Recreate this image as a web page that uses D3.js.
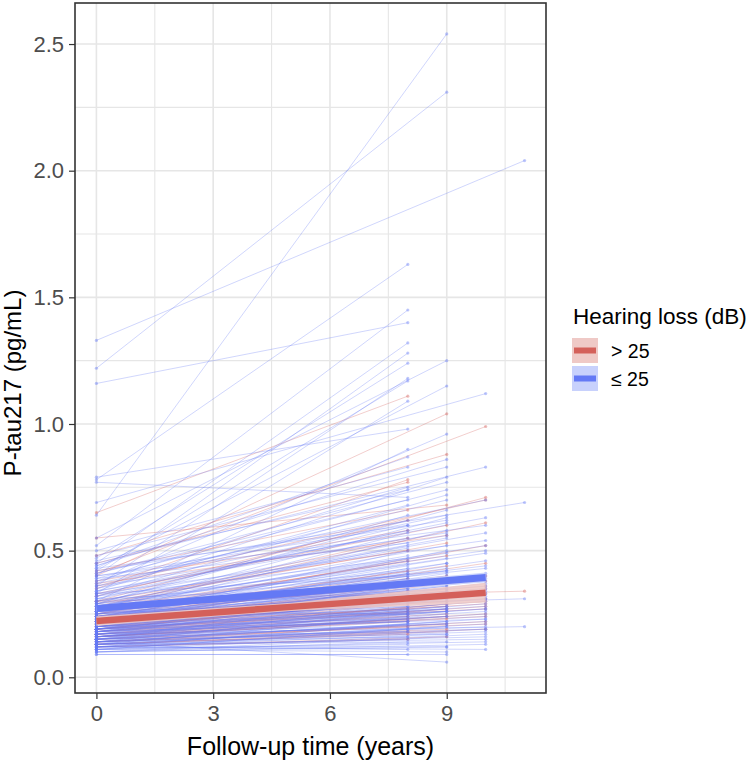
<!DOCTYPE html>
<html>
<head>
<meta charset="utf-8">
<script src="https://cdn.jsdelivr.net/npm/d3@7"></script>
<style>
body { margin: 0; background: #fff; }
svg { display: block; font-family: "Liberation Sans", Arial, sans-serif; }
</style>
</head>
<body>
<svg id="chart" width="750" height="761"></svg>
<script>
// each pair: [P-tau217 at baseline, P-tau217 at follow-up], grouped by follow-up year
var redTo8 = [[0.65,1.11],[0.35,0.78],[0.45,0.77],[0.32,0.62],[0.28,0.55],[0.30,0.50],[0.26,0.46],[0.24,0.42],[0.22,0.39],[0.25,0.36],[0.20,0.34],[0.19,0.31],[0.18,0.29],[0.21,0.27],[0.16,0.25],[0.15,0.23],[0.14,0.20],[0.13,0.17],[0.23,0.30],
	[0.12,0.15],[0.14,0.18],[0.16,0.22],[0.17,0.24],[0.19,0.26],[0.20,0.29],[0.22,0.32],[0.24,0.33],[0.27,0.38],[0.38,0.58],[0.42,0.66]];
var redTo9 = [[0.40,1.04],[0.48,0.88],[0.55,0.68],[0.33,0.60],[0.29,0.53],[0.27,0.48],[0.25,0.44],[0.23,0.40],[0.21,0.37],[0.24,0.35],[0.19,0.33],[0.20,0.31],[0.17,0.29],[0.18,0.27],[0.16,0.24],[0.15,0.21],[0.13,0.18],[0.22,0.30],
	[0.12,0.16],[0.14,0.19],[0.16,0.23],[0.18,0.25],[0.19,0.28],[0.21,0.32],[0.23,0.34],[0.26,0.39],[0.37,0.56]];
var redTo10 = [[0.41,0.99],[0.30,0.71],[0.36,0.70],[0.27,0.61],[0.25,0.52],[0.23,0.45],[0.21,0.40],[0.22,0.36],[0.19,0.33],[0.18,0.30],[0.17,0.28],[0.16,0.25],[0.14,0.22],[0.20,0.29],
	[0.13,0.19],[0.15,0.21],[0.17,0.24],[0.19,0.27],[0.21,0.31],[0.24,0.35],[0.26,0.38]];
var redTo11 = [[0.30,0.34]];

var blueTo8 = [[0.78,1.63],[0.52,1.45],[1.16,1.40],[0.45,1.32],[0.40,1.28],[0.47,1.24],[0.36,1.18],[0.42,1.17],[0.33,1.09],[0.79,0.98],[0.30,0.90],[0.44,0.87],[0.50,0.83],[0.77,0.71],[0.38,0.75],[0.35,0.68],[0.29,0.64],[0.31,0.60],[0.26,0.57],[0.34,0.55],[0.28,0.52],[0.22,0.50],[0.27,0.48],[0.25,0.46],[0.24,0.44],[0.30,0.42],[0.21,0.41],[0.19,0.39],[0.23,0.38],[0.26,0.37],[0.18,0.36],[0.20,0.35],[0.22,0.34],[0.17,0.33],[0.25,0.32],[0.15,0.31],[0.19,0.30],[0.21,0.29],[0.16,0.28],[0.18,0.27],[0.14,0.26],[0.20,0.25],[0.13,0.24],[0.17,0.23],[0.15,0.22],[0.12,0.21],[0.16,0.20],[0.11,0.19],[0.14,0.18],[0.13,0.16],[0.10,0.14],[0.12,0.11],[0.09,0.09],[0.23,0.28],[0.28,0.33],[0.31,0.36],[0.33,0.40],[0.24,0.30],[0.26,0.25],[0.19,0.22],
	[0.11,0.13],[0.12,0.15],[0.13,0.19],[0.14,0.21],[0.15,0.24],[0.16,0.26],[0.17,0.25],[0.18,0.30],[0.19,0.33],[0.20,0.31],[0.21,0.37],[0.22,0.40],[0.23,0.43],[0.24,0.35],[0.25,0.41],[0.27,0.45],[0.29,0.51],[0.32,0.58],[0.14,0.16],[0.16,0.18],[0.18,0.22],[0.20,0.23],[0.22,0.27],[0.24,0.33],[0.26,0.39],
	[0.37,0.62],[0.41,0.70],[0.46,0.74],[0.39,0.53],[0.43,0.60],[0.32,0.47]];
var blueTo9 = [[0.64,2.54],[1.22,2.31],[0.55,1.25],[0.43,1.15],[0.37,0.96],[0.48,0.83],[0.34,0.79],[0.41,0.77],[0.32,0.72],[0.36,0.70],[0.29,0.66],[0.27,0.63],[0.33,0.61],[0.25,0.58],[0.30,0.55],[0.28,0.52],[0.23,0.50],[0.26,0.47],[0.22,0.45],[0.24,0.43],[0.21,0.41],[0.27,0.40],[0.19,0.38],[0.20,0.36],[0.18,0.35],[0.23,0.34],[0.17,0.33],[0.16,0.31],[0.21,0.30],[0.15,0.29],[0.19,0.28],[0.14,0.27],[0.18,0.26],[0.13,0.25],[0.16,0.24],[0.12,0.22],[0.15,0.21],[0.11,0.20],[0.14,0.18],[0.10,0.16],[0.13,0.14],[0.12,0.12],[0.11,0.10],[0.14,0.06],[0.25,0.37],[0.29,0.42],[0.22,0.32],[0.20,0.27],
	[0.10,0.12],[0.12,0.17],[0.13,0.20],[0.14,0.22],[0.15,0.26],[0.16,0.28],[0.17,0.27],[0.18,0.31],[0.19,0.34],[0.20,0.33],[0.21,0.38],[0.22,0.36],[0.23,0.42],[0.24,0.39],[0.26,0.45],[0.28,0.49],[0.31,0.56],[0.35,0.64],[0.15,0.17],[0.17,0.21],[0.19,0.24],[0.21,0.26],[0.25,0.31],[0.27,0.35],[0.09,0.09],
	[0.39,0.74],[0.44,0.86],[0.36,0.57],[0.40,0.62]];
var blueTo10 = [[0.69,1.12],[0.45,0.83],[0.38,0.70],[0.34,0.63],[0.30,0.57],[0.28,0.52],[0.26,0.49],[0.24,0.46],[0.27,0.43],[0.22,0.41],[0.23,0.39],[0.20,0.37],[0.21,0.35],[0.19,0.33],[0.18,0.31],[0.17,0.29],[0.16,0.27],[0.15,0.25],[0.14,0.23],[0.13,0.21],[0.12,0.19],[0.11,0.17],[0.13,0.15],[0.10,0.13],[0.12,0.11],[0.25,0.36],[0.19,0.28],
	[0.11,0.14],[0.12,0.16],[0.13,0.18],[0.14,0.20],[0.15,0.22],[0.16,0.24],[0.17,0.26],[0.18,0.27],[0.19,0.30],[0.20,0.32],[0.21,0.34],[0.22,0.38],[0.24,0.40],[0.26,0.44],[0.29,0.50],[0.15,0.19],[0.18,0.23],[0.23,0.31],
	[0.40,0.60],[0.33,0.54]];
var blueTo11 = [[1.33,2.04],[0.42,0.69],[0.26,0.31],[0.17,0.20]];

// model fit and 95% band at years 0, 5, 10
var fitYears = [0, 5, 10];
var redFit = [0.222, 0.278, 0.334];
var redLow = [0.203, 0.262, 0.295];
var redHigh = [0.241, 0.294, 0.373];
var blueFit = [0.272, 0.333, 0.394];
var blueLow = [0.260, 0.323, 0.374];
var blueHigh = [0.285, 0.344, 0.414];

var xTicks = [0, 3, 6, 9];
var yTicks = [0, 0.5, 1, 1.5, 2, 2.5];
var legendLabels = ["> 25", "\u2264 25"];

var RED = "#d4605a", BLUE = "#6479f5";

var svg = d3.select("#chart");
var panel = {left: 75, right: 546, top: 3, bottom: 693};

var x = d3.scaleLinear().domain([-0.55, 11.55]).range([panel.left, panel.right]);
var y = d3.scaleLinear().domain([-0.062, 2.662]).range([panel.bottom, panel.top]);

// build subjects
var subjects = [];
function addSubjects(arr, year, grp) {
	arr.forEach(function(d) { subjects.push({grp: grp, pts: [[0, d[0]], [year, d[1]]]}); });
}
addSubjects(redTo8, 8, 0); addSubjects(redTo9, 9, 0); addSubjects(redTo10, 10, 0); addSubjects(redTo11, 11, 0);
addSubjects(blueTo8, 8, 1); addSubjects(blueTo9, 9, 1); addSubjects(blueTo10, 10, 1); addSubjects(blueTo11, 11, 1);

svg.append("defs").append("clipPath").attr("id", "clip")
	.append("rect").attr("x", panel.left).attr("y", panel.top)
	.attr("width", panel.right - panel.left).attr("height", panel.bottom - panel.top);

// grid
var grid = svg.append("g");
var xMinor = [1.5, 4.5, 7.5, 10.5], yMinor = [0.25, 0.75, 1.25, 1.75, 2.25];
grid.selectAll(".gx").data(xTicks.concat(xMinor)).enter().append("line")
	.attr("x1", function(d) { return x(d); }).attr("x2", function(d) { return x(d); })
	.attr("y1", panel.top).attr("y2", panel.bottom)
	.attr("stroke", "#e6e6e6").attr("stroke-width", function(d) { return xTicks.indexOf(d) >= 0 ? 1.6 : 1.1; });
grid.selectAll(".gy").data(yTicks.concat(yMinor)).enter().append("line")
	.attr("y1", function(d) { return y(d); }).attr("y2", function(d) { return y(d); })
	.attr("x1", panel.left).attr("x2", panel.right)
	.attr("stroke", "#e6e6e6").attr("stroke-width", function(d) { return yTicks.indexOf(d) >= 0 ? 1.6 : 1.1; });

var plot = svg.append("g").attr("clip-path", "url(#clip)");
var line = d3.line().x(function(d) { return x(d[0]); }).y(function(d) { return y(d[1]); });

// individual trajectories
plot.selectAll(".traj").data(subjects).enter().append("path")
	.attr("d", function(d) { return line(d.pts); })
	.attr("fill", "none")
	.attr("stroke", function(d) { return d.grp === 0 ? RED : BLUE; })
	.attr("stroke-opacity", 0.34)
	.attr("stroke-width", 0.9);

var pts = [];
subjects.forEach(function(s) { s.pts.forEach(function(p) { pts.push({grp: s.grp, p: p}); }); });
plot.selectAll(".pt").data(pts).enter().append("circle")
	.attr("cx", function(d) { return x(d.p[0]); })
	.attr("cy", function(d) { return y(d.p[1]); })
	.attr("r", 1.6)
	.attr("fill", function(d) { return d.grp === 0 ? RED : BLUE; })
	.attr("fill-opacity", 0.42);

// fitted bands and lines
function fitData(fit, lo, hi) {
	return fitYears.map(function(t, i) { return {t: t, m: fit[i], lo: lo[i], hi: hi[i]}; });
}
var fits = [
	{col: BLUE, band: "#c8d1fc", w: 7, data: fitData(blueFit, blueLow, blueHigh)},
	{col: RED, band: "#efc9c6", w: 6.5, data: fitData(redFit, redLow, redHigh)}
];
var area = d3.area().x(function(d) { return x(d.t); })
	.y0(function(d) { return y(d.lo); }).y1(function(d) { return y(d.hi); });
var fitLine = d3.line().x(function(d) { return x(d.t); }).y(function(d) { return y(d.m); });

fits.forEach(function(f) {
	plot.append("path").attr("d", area(f.data)).attr("fill", f.band).attr("fill-opacity", 0.85);
});
fits.forEach(function(f) {
	plot.append("path").attr("d", fitLine(f.data)).attr("fill", "none")
		.attr("stroke", f.col).attr("stroke-width", f.w);
});

// panel border
svg.append("rect").attr("x", panel.left).attr("y", panel.top)
	.attr("width", panel.right - panel.left).attr("height", panel.bottom - panel.top)
	.attr("fill", "none").attr("stroke", "#333").attr("stroke-width", 1.6);

// axes
var xAxis = svg.append("g").attr("transform", "translate(0," + panel.bottom + ")")
	.call(d3.axisBottom(x).tickValues(xTicks).tickSize(6).tickPadding(6).tickFormat(d3.format("d")));
var yAxis = svg.append("g").attr("transform", "translate(" + panel.left + ",0)")
	.call(d3.axisLeft(y).tickValues(yTicks).tickSize(6).tickPadding(5).tickFormat(d3.format(".1f")));
[xAxis, yAxis].forEach(function(a) {
	a.select(".domain").remove();
	a.selectAll(".tick line").attr("stroke", "#333").attr("stroke-width", 1.2);
	a.selectAll(".tick text").attr("fill", "#4d4d4d").style("font-size", "22px")
		.style("font-family", "'Liberation Sans', Arial, sans-serif");
});

svg.append("text").attr("x", (panel.left + panel.right) / 2).attr("y", 755)
	.attr("text-anchor", "middle").style("font-size", "25px").text("Follow-up time (years)");
svg.append("text").attr("transform", "translate(21,383) rotate(-90)")
	.attr("text-anchor", "middle").style("font-size", "24px").text("P-tau217 (pg/mL)");

// legend
var leg = svg.append("g");
leg.append("text").attr("x", 573).attr("y", 324).style("font-size", "22.5px").text("Hearing loss (dB)");
var legCols = [fits[1], fits[0]];
legendLabels.forEach(function(lab, i) {
	var g = leg.append("g").attr("transform", "translate(572," + (338 + i * 28) + ")");
	g.append("rect").attr("width", 26).attr("height", 25).attr("fill", legCols[i].band);
	g.append("line").attr("x1", 2).attr("x2", 24).attr("y1", 12.5).attr("y2", 12.5)
		.attr("stroke", legCols[i].col).attr("stroke-width", 6);
	g.append("text").attr("x", 39).attr("y", 19.5).style("font-size", "19.5px").text(lab);
});
</script>
</body>
</html>
